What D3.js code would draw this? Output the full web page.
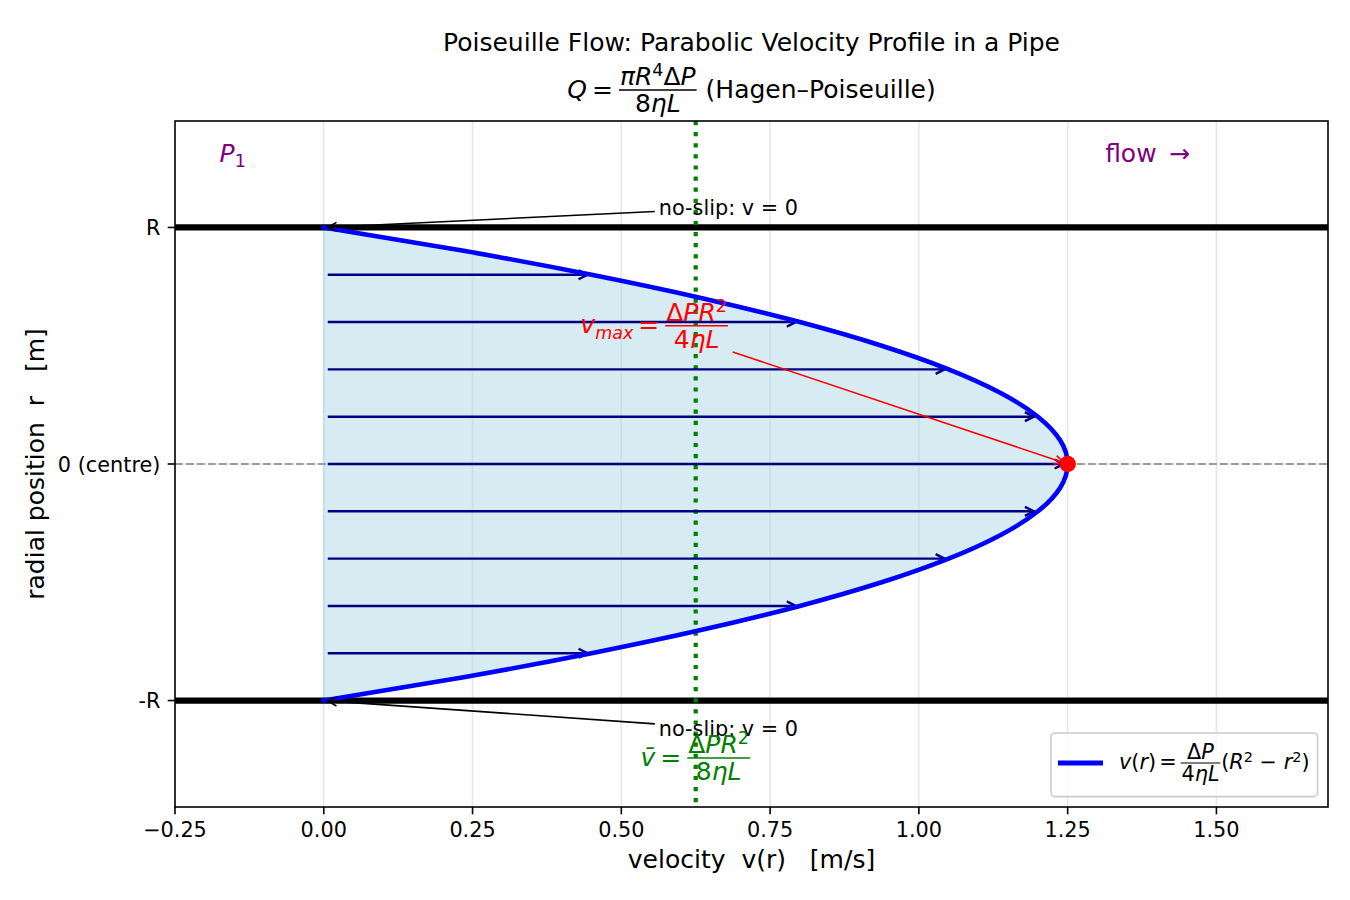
<!DOCTYPE html>
<html><head><meta charset="utf-8">
<script src="https://cdn.jsdelivr.net/npm/d3@7"></script>
<style>
body{margin:0;background:#fff}
text{font-family:"DejaVu Sans",sans-serif;white-space:pre}
</style>
</head><body>
<svg id="c" width="1350" height="900"></svg>
<script>
// ---------------- data ----------------
const profileR = [-1,-0.9,-0.8,-0.7,-0.6,-0.5,-0.4,-0.3,-0.2,-0.1,0,0.1,0.2,0.3,0.4,0.5,0.6,0.7,0.8,0.9,1];
const profileV = [0,0.2375,0.45,0.6375,0.8,0.9375,1.05,1.1375,1.2,1.2375,1.25,1.2375,1.2,1.1375,1.05,0.9375,0.8,0.6375,0.45,0.2375,0];
const arrowR = [-0.8,-0.6,-0.4,-0.2,0,0.2,0.4,0.6,0.8];
const arrowV = [0.45,0.8,1.05,1.2,1.25,1.2,1.05,0.8,0.45];
const vMaxPoint = [1.25, 0];
const vMean = 0.625;
const wallR = [-1, 1];
const xTicks = [-0.25,0,0.25,0.5,0.75,1,1.25,1.5];
const xTickLabels = ["\u22120.25","0.00","0.25","0.50","0.75","1.00","1.25","1.50"];
const yTicks = [1,0,-1];
const yTickLabels = ["R","0 (centre)","-R"];
const xDomain = [-0.25, 1.6875];
const yDomain = [-1.45, 1.45];

// ---------------- layout ----------------
const svg = d3.select("#c");
const L = 175, R = 1328, T = 121, B = 807;
const x = d3.scaleLinear().domain(xDomain).range([L, R]);
const y = d3.scaleLinear().domain(yDomain).range([B, T]);
const TICK = 20.8, LAB = 25;

const clipId = "axclip";
svg.append("defs").append("clipPath").attr("id", clipId)
  .append("rect").attr("x", L).attr("y", T).attr("width", R-L).attr("height", B-T);

// grid
const grid = svg.append("g").attr("clip-path", `url(#${clipId})`);
grid.selectAll(".gx").data(xTicks).join("line")
  .attr("x1", d=>x(d)).attr("x2", d=>x(d)).attr("y1", T).attr("y2", B)
  .attr("stroke", "#b0b0b0").attr("stroke-opacity", 0.3).attr("stroke-width", 1.6);
grid.selectAll(".gy").data(yTicks).join("line")
  .attr("y1", d=>y(d)).attr("y2", d=>y(d)).attr("x1", L).attr("x2", R)
  .attr("stroke", "#b0b0b0").attr("stroke-opacity", 0.3).attr("stroke-width", 1.6);

const plot = svg.append("g").attr("clip-path", `url(#${clipId})`);
const prof = profileR.map((r,i)=>({r, v: profileV[i]}));

// fill
plot.append("path").datum(prof)
  .attr("d", d3.area().curve(d3.curveNatural).y(d=>y(d.r)).x0(x(0)).x1(d=>x(d.v)))
  .attr("fill", "#add8e6").attr("fill-opacity", 0.5)
  .attr("stroke", "#add8e6").attr("stroke-opacity", 0.5).attr("stroke-width", 1.5);

// walls
plot.selectAll(".wall").data(wallR).join("line")
  .attr("x1", L).attr("x2", R).attr("y1", d=>y(d)).attr("y2", d=>y(d))
  .attr("stroke", "#000").attr("stroke-width", 6.2);

// centreline
plot.append("line").attr("x1", L).attr("x2", R).attr("y1", y(0)).attr("y2", y(0))
  .attr("stroke", "#808080").attr("stroke-width", 1.6).attr("stroke-dasharray", "7.7,3.3");

// mean velocity line
plot.append("line").attr("x1", x(vMean)).attr("x2", x(vMean)).attr("y1", T).attr("y2", B)
  .attr("stroke", "#008000").attr("stroke-width", 4.2).attr("stroke-dasharray", "4.2,6.9");

// arrow helper
function arrow(g, x1, y1, x2, y2, color, w, shrinkA=4, shrinkB=4, hl=9, hw=4.5) {
  const dx = x2-x1, dy = y2-y1, len = Math.hypot(dx, dy);
  const ux = dx/len, uy = dy/len;
  const sx = x1 + ux*shrinkA, sy = y1 + uy*shrinkA;
  const ex = x2 - ux*shrinkB, ey = y2 - uy*shrinkB;
  g.append("line").attr("x1", sx).attr("y1", sy).attr("x2", ex).attr("y2", ey)
    .attr("stroke", color).attr("stroke-width", w);
  const bx = ex - ux*hl, by = ey - uy*hl;
  const px = -uy*hw, py = ux*hw;
  g.append("path").attr("d", `M${bx+px},${by+py}L${ex},${ey}L${bx-px},${by-py}`)
    .attr("fill", "none").attr("stroke", color).attr("stroke-width", w);
}

// velocity arrows
arrowR.forEach((r,i)=>arrow(plot, x(0), y(r), x(arrowV[i]), y(r), "#000080", 2.4));

// profile curve
plot.append("path").datum(prof)
  .attr("d", d3.line().curve(d3.curveNatural).x(d=>x(d.v)).y(d=>y(d.r)))
  .attr("fill", "none").attr("stroke", "#0000ff").attr("stroke-width", 4.6)
  .attr("stroke-linecap", "square");

// ---------------- math text helper ----------------
function put(gg, cx, baseline, segs, fs, color) {
  let x0 = cx;
  segs.forEach(s => {
    if (s.sp !== undefined) { x0 += s.sp*fs; return; }
    let f = fs, dy = 0;
    if (s.sup) { f = fs*0.7; dy = -0.36*fs; }
    if (s.sub) { f = fs*0.7; dy = 0.22*fs; }
    const t = gg.append("text").attr("x", x0).attr("y", baseline+dy)
      .attr("font-size", f).attr("font-style", s.i ? "italic" : "normal")
      .attr("fill", color).text(s.t);
    x0 += t.node().getComputedTextLength();
  });
  return x0 - cx;
}
function mathRow(parent, px, bar, items, size, color, anchor) {
  const g = parent.append("g");
  let cx = 0;
  const base = bar + 0.3*size;
  items.forEach(it => {
    if (it.frac) {
      const gn = g.append("g"), gd = g.append("g");
      const wn = put(gn, 0, bar - 0.2*size, it.frac[0], size, color);
      const wd = put(gd, 0, bar + 0.88*size, it.frac[1], size, color);
      const w = Math.max(wn, wd) + 0.16*size;
      gn.attr("transform", `translate(${cx + (w-wn)/2},0)`);
      gd.attr("transform", `translate(${cx + (w-wd)/2},0)`);
      g.append("line").attr("x1", cx+0.04*size).attr("x2", cx+w-0.04*size)
        .attr("y1", bar).attr("y2", bar).attr("stroke", color).attr("stroke-width", 0.06*size);
      cx += w;
    } else {
      cx += put(g, cx, base, [it], size, color);
    }
  });
  const shift = anchor === "middle" ? -cx/2 : anchor === "end" ? -cx : 0;
  g.attr("transform", `translate(${px+shift},0)`);
  return {g, left: px+shift, width: cx};
}

// ---------------- points & annotations ----------------
svg.append("circle").attr("cx", x(vMaxPoint[0])).attr("cy", y(vMaxPoint[1])).attr("r", 8.3).attr("fill", "#ff0000");

const ann = svg.append("g");
function noSlip(tx, tyBase, target) {
  const t = ann.append("text").attr("x", x(tx)).attr("y", y(tyBase)).attr("font-size", TICK).attr("fill", "#000").text("no-slip: v = 0");
  const bb = t.node().getBBox();
  const cx = bb.x + bb.width/2, cy = bb.y + bb.height/2;
  const txp = x(target[0]), typ = y(target[1]);
  const k = (bb.x - cx)/(txp - cx);
  const sx = bb.x, sy = cy + (typ - cy)*k;
  arrow(ann, sx, sy, txp, typ, "#000", 1.6, 4, 4);
}
noSlip(0.563, 1.053, [0, 1]);
noSlip(0.563, -1.15, [0, -1]);

// v_max label
const vm = mathRow(ann, x(0.556), y(0.584), [
  {t:"v", i:1}, {t:"max", i:1, sub:1}, {sp:0.2}, {t:"="}, {sp:0.2},
  {frac:[[{t:"Δ"},{t:"P",i:1},{t:"R",i:1},{t:"2",sup:1}], [{t:"4"},{t:"η",i:1},{t:"L",i:1}]]}
], LAB, "#ff0000", "middle");
{
  const cx = vm.left + vm.width/2, cy = y(0.584);
  const tx = x(vMaxPoint[0]), ty = y(vMaxPoint[1]);
  const right = vm.left + vm.width;
  const k = (right - cx)/(tx - cx);
  arrow(ann, right, cy + (ty-cy)*k, tx, ty, "#ff0000", 1.6, 4, 4);
}

// mean label
mathRow(ann, x(vMean), y(-1.243), [
  {t:"v\u0304", i:1}, {sp:0.2}, {t:"="}, {sp:0.2},
  {frac:[[{t:"Δ"},{t:"P",i:1},{t:"R",i:1},{t:"2",sup:1}], [{t:"8"},{t:"η",i:1},{t:"L",i:1}]]}
], LAB, "#008000", "middle");

// P1 & flow
{
  const g = ann.append("g");
  const w = put(g, 0, y(1.277), [{t:"P", i:1}, {t:"1", sub:1}], LAB, "#800080");
  g.attr("transform", `translate(${x(-0.153) - w/2},0)`);
}
ann.append("text").attr("x", x(1.313)).attr("y", y(1.277)).attr("font-size", LAB)
  .attr("fill", "#800080").text("flow\u2002→");

// ---------------- axes ----------------
svg.append("rect").attr("x", L).attr("y", T).attr("width", R-L).attr("height", B-T)
  .attr("fill", "none").attr("stroke", "#000").attr("stroke-width", 1.6);
const ax = svg.append("g");
xTicks.forEach((t,i)=>{
  ax.append("line").attr("x1", x(t)).attr("x2", x(t)).attr("y1", B).attr("y2", B+7.3).attr("stroke", "#000").attr("stroke-width", 1.6);
  ax.append("text").attr("x", x(t)).attr("y", 837).attr("text-anchor", "middle").attr("font-size", TICK).text(xTickLabels[i]);
});
yTicks.forEach((t,i)=>{
  ax.append("line").attr("x1", L-7.3).attr("x2", L).attr("y1", y(t)).attr("y2", y(t)).attr("stroke", "#000").attr("stroke-width", 1.6);
  ax.append("text").attr("x", L-14.6).attr("y", y(t)+7.5).attr("text-anchor", "end").attr("font-size", TICK).text(yTickLabels[i]);
});
ax.append("text").attr("x", (L+R)/2).attr("y", 868).attr("text-anchor", "middle").attr("font-size", LAB).text("velocity  v(r)   [m/s]");
ax.append("text").attr("transform", `translate(44,${(T+B)/2}) rotate(-90)`).attr("text-anchor", "middle").attr("font-size", LAB).text("radial position  r   [m]");

// title
svg.append("text").attr("x", (L+R)/2).attr("y", 51).attr("text-anchor", "middle").attr("font-size", LAB)
  .text("Poiseuille Flow: Parabolic Velocity Profile in a Pipe");
mathRow(svg, (L+R)/2, 90, [
  {t:"Q", i:1}, {sp:0.2}, {t:"="}, {sp:0.2},
  {frac:[[{t:"π",i:1},{t:"R",i:1},{t:"4",sup:1},{t:"Δ"},{t:"P",i:1}], [{t:"8"},{t:"η",i:1},{t:"L",i:1}]]},
  {t:" (Hagen–Poiseuille)"}
], LAB, "#000", "middle");

// ---------------- legend ----------------
{
  const lg = svg.append("g");
  const box = lg.append("rect");
  const textLeft = 1119, barY = 763;
  mathRow(lg, textLeft, barY, [
    {t:"v", i:1}, {t:"("}, {t:"r", i:1}, {t:")"}, {sp:0.15}, {t:"="}, {sp:0.15},
    {frac:[[{t:"Δ"},{t:"P",i:1}], [{t:"4"},{t:"η",i:1},{t:"L",i:1}]]},
    {t:"("}, {t:"R", i:1}, {t:"2", sup:1}, {t:" − "}, {t:"r", i:1}, {t:"2", sup:1}, {t:")"}
  ], TICK, "#000", "start");
  const right = 1317.6, bottom = 796.6, left = 1051;
  box.attr("x", left).attr("y", 733).attr("width", right-left).attr("height", bottom-733)
    .attr("rx", 4).attr("fill", "#fff").attr("fill-opacity", 0.8).attr("stroke", "#cccccc").attr("stroke-width", 1.6);
  lg.append("line").attr("x1", 1058).attr("x2", 1103).attr("y1", barY).attr("y2", barY)
    .attr("stroke", "#0000ff").attr("stroke-width", 5.2);
}
</script>
</body></html>
